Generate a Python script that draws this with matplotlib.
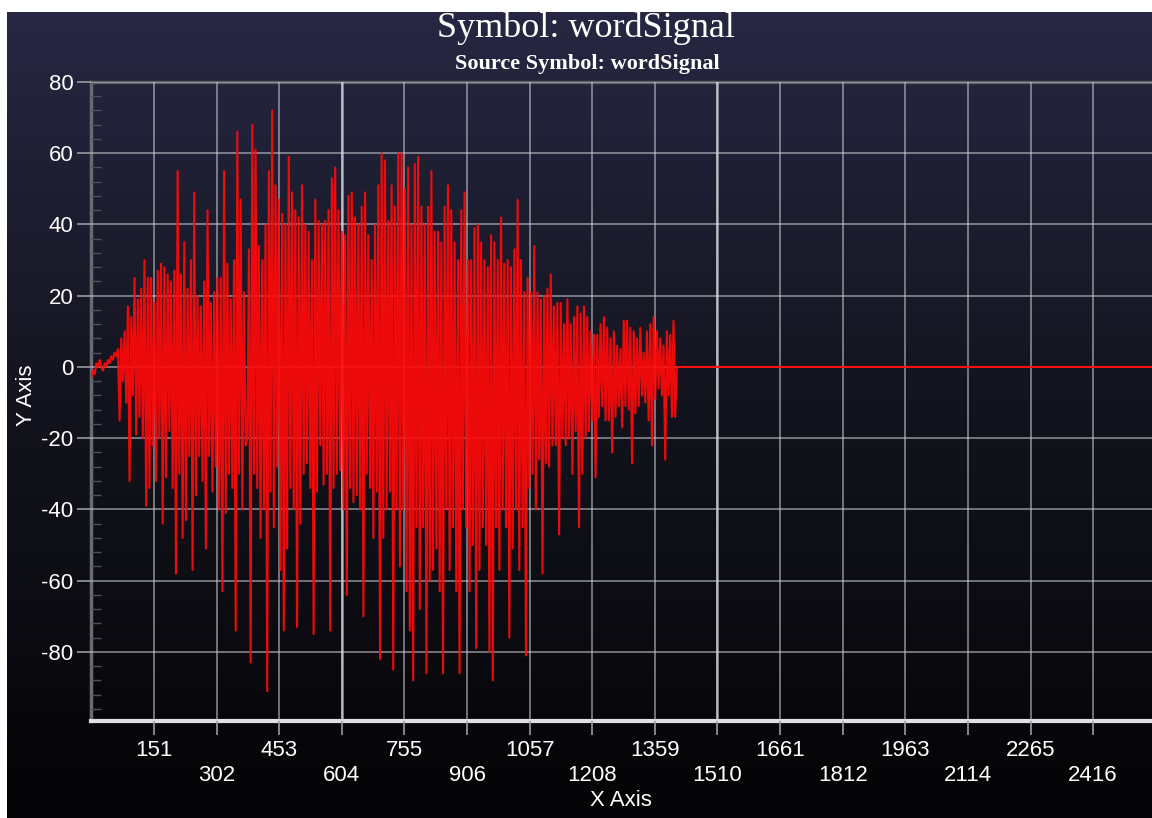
import numpy as np
import matplotlib
matplotlib.use('Agg')
import matplotlib.pyplot as plt
from matplotlib.colors import LinearSegmentedColormap

# wordSignal samples, one value every 4 samples
word_signal = [
    -3, -1, -2, 1, 0, 2, 0, -1, 1, 0, 2, 1, 3, 2, 4, 3, 5,
    -15, 8, -4, 10, -10, 17, -32, 14, -8, 25, -19, 19, -14, 22, -20, 30, -39, 25,
    -34, 25, -22, 18, -32, 27, -20, 29, -44, 28, -31, 26, -18, 24, -34, 27,
    -58, 55, -30, 26, -48, 35, -43, 22, -25, 30, -57, 49, -36, 20, -25, 17,
    -32, 24, -51, 44, -25, 18, -35, 21, -28, 25, -40, 25, -63, 55, -41, 29,
    -30, 19, -34, 30, -74, 66, -30, 47, -40, 21, -22, -20, 33, -83, 68, -30,
    61, -34, 34, -48, 30, -40, 40, -91, 55, -35, 72, -45, 51, -28, 47, -57,
    43, -74, 40, -51, 59, -34, 49, -40, 44, -73, 42, -44, 51, -30, 40, -27,
    38, -34, 30, -75, 47, -35, 41, -22, 40, -33, 41, -30, 44, -74, 53, -34,
    56, -30, 44, -29, 38, -40, 37, -64, 48, -34, 49, -38, 42, -36, 40, -40,
    45, -70, 49, -30, 37, -34, 30, -48, 40, -35, 51, -82, 60, -48, 58, -40,
    41, -35, 51, -85, 45, -40, 60, -56, 60, -40, 50, -63, 56, -74, 40, -88,
    57, -45, 59, -68, 45, -45, 40, -86, 45, -60, 55, -57, 38, -51, 38, -63,
    35, -86, 45, -40, 51, -57, 44, -45, 35, -63, 30, -86, 44, -40, 49, -45,
    30, -63, 30, -50, 39, -79, 40, -57, 35, -45, 30, -50, 28, -80, 37, -88,
    35, -45, 30, -57, 42, -40, 29, -45, 30, -76, 28, -51, 33, -40, 47, -57,
    30, -45, 21, -81, 25, -34, 21, -30, 34, -40, 21, -26, 19, -58, 20, -27,
    22, -28, 26, -22, 17, -22, 18, -47, 18, -20, 12, -22, 19, -20, 12, -30,
    14, -18, 17, -45, 15, -30, 17, -20, 14, -18, 10, -15, 9, -31, 9, -14,
    12, -11, 14, -15, 11, -15, 8, -24, 10, -14, 6, -11, 5, -17, 13, -11,
    13, -12, 11, -27, 10, -13, 8, -11, 11, -8, 4, -10, 10, -15, 12, -22,
    14, -9, 10, -6, 8, -8, 6, -26, 10, -8, 9, -14, 13, -14, 0,
]
sample_step = 4
signal_length = 2560

x_ticks = [151, 302, 453, 604, 755, 906, 1057, 1208, 1359, 1510,
           1661, 1812, 1963, 2114, 2265, 2416]
y_ticks = [-80, -60, -40, -20, 0, 20, 40, 60, 80]

# rest of the record is flat zero
y = np.zeros(signal_length // sample_step)
y[:len(word_signal)] = word_signal
x = np.arange(len(y)) * sample_step

W, H = 1152, 818
fig = plt.figure(figsize=(W / 100, H / 100), dpi=100, facecolor='white')

# dark navy -> black background
bg = fig.add_axes([7 / W, 0, 1 - 7 / W, 806 / H])
cmap = LinearSegmentedColormap.from_list('bg', ['#040406', '#13131d', '#272743'])
bg.imshow(np.linspace(0, 1, 256).reshape(-1, 1), aspect='auto', cmap=cmap,
          origin='lower', extent=[0, 1, 0, 1])
bg.axis('off')

ax = fig.add_axes([91.4 / W, 97 / H, (W - 91.4) / W, 639 / H])
ax.patch.set_alpha(0)

ax.plot(x, y, color='#ff0a0a', lw=1.5, alpha=0.93, zorder=4)
ax.set_xlim(0, 2558)
ax.set_ylim(-99.4, 80)

ax.set_xticks(x_ticks[0::2], [str(v) for v in x_ticks[0::2]])
ax.set_xticks(x_ticks[1::2], [str(v) for v in x_ticks[1::2]], minor=True)
ax.set_yticks(y_ticks, [str(v) for v in y_ticks])
ax.set_yticks(np.arange(-96, 80, 4), minor=True)

tick_font = ['Liberation Sans', 'DejaVu Sans']
for lab in ax.get_xticklabels(which='both') + ax.get_yticklabels():
    lab.set_family(tick_font)

ax.tick_params(axis='x', which='major', length=10, width=1.2, color='#9a9aa2',
               pad=4, labelsize=16, labelcolor='white')
ax.tick_params(axis='x', which='minor', length=10, width=1.2, color='#9a9aa2',
               pad=22, labelsize=16, labelcolor='white')
ax.tick_params(axis='y', which='major', length=10, width=1.2, color='#9a9aa2',
               pad=3, labelsize=16, labelcolor='white')
ax.tick_params(axis='y', which='minor', direction='in', length=7, width=1,
               color='#50505a')

ax.set_axisbelow(False)
ax.xaxis.grid(True, which='both', color='#c8c8d2', alpha=0.55, lw=1.4)
ax.yaxis.grid(True, which='major', color='#c8c8d2', alpha=0.55, lw=1.4)
for v in (x_ticks[3], x_ticks[9]):
    ax.axvline(v, color='#d8d8e0', alpha=0.7, lw=1.8, zorder=3)

ax.spines['right'].set_visible(False)
ax.spines['top'].set_color('#5c5c66')
ax.spines['top'].set_linewidth(2.5)
ax.spines['left'].set_color('#6a6a72')
ax.spines['left'].set_linewidth(2.5)
ax.spines['bottom'].set_color('#e0e0e0')
ax.spines['bottom'].set_linewidth(3)

fig.text(586 / W, 1 - 28 / H, 'Symbol: wordSignal', family='Liberation Serif',
         size=26, color='white', ha='center', va='center')
fig.text(587 / W, 1 - 64 / H, 'Source Symbol: wordSignal', family='Liberation Serif',
         weight='bold', size=16, color='white', ha='center', va='center')
fig.text(621 / W, 1 - 801 / H, 'X Axis', family=tick_font, size=16,
         color='white', ha='center', va='center')
fig.text(27 / W, 1 - 395 / H, 'Y Axis', family=tick_font, size=16,
         color='white', ha='center', va='center', rotation=90)

fig.savefig('out.png', dpi=100, facecolor='white')
